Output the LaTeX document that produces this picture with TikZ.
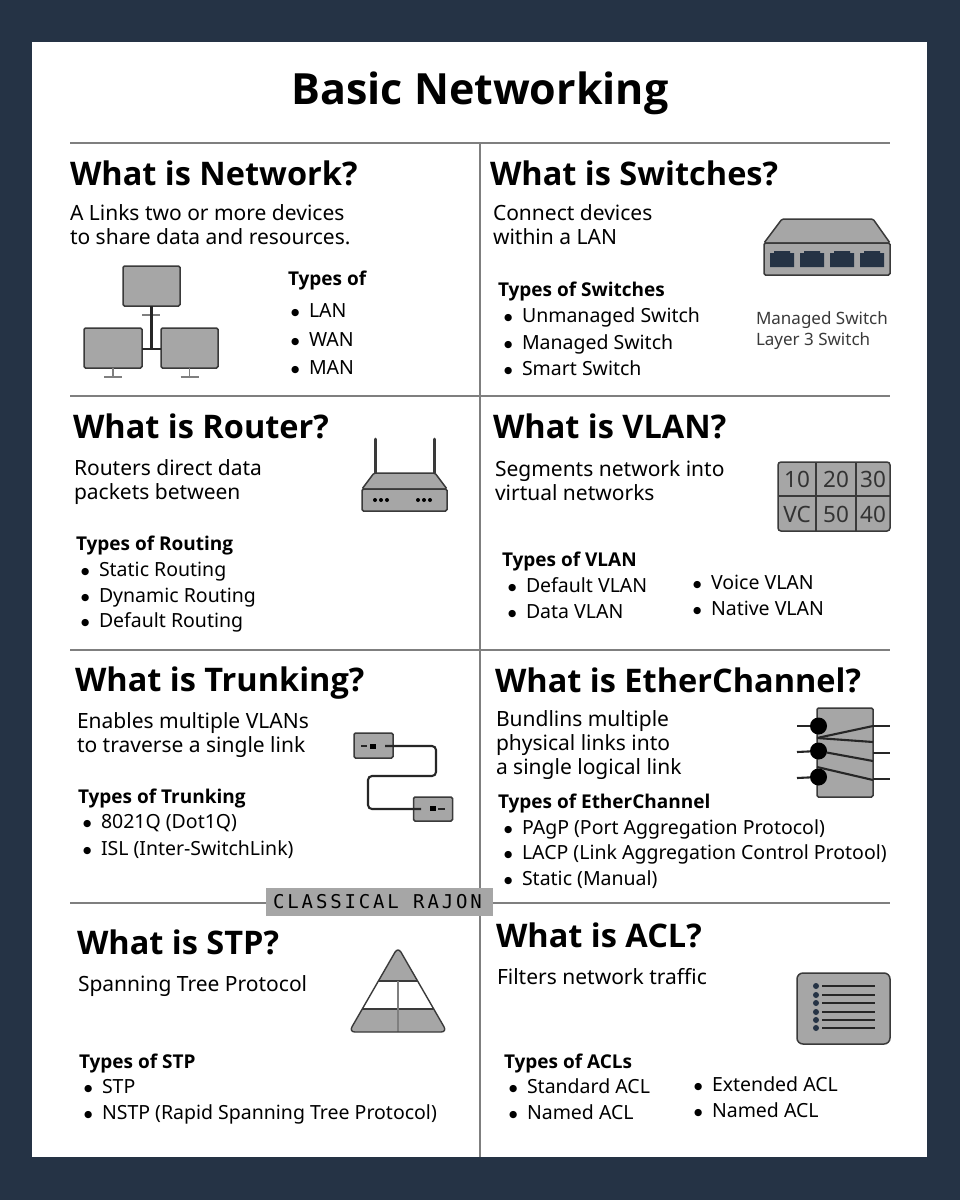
\documentclass[tikz,border=0pt]{standalone}
\usepackage{fontspec}
\setmainfont{Noto Sans}[BoldFont={Open Sans Bold}]
\newfontfamily\stampfont[LetterSpace=15]{DejaVu Sans Mono}
\newfontfamily\dotfont{DejaVu Sans}
\definecolor{slate}{HTML}{253345}
\definecolor{panel}{HTML}{A6A6A6}
\definecolor{rule}{HTML}{7F7F7F}
\definecolor{ink}{HTML}{3A3A3A}
\newcommand{\itm}[1]{\makebox[18pt][l]{\raisebox{2pt}{\dotfont\fontsize{9.5}{9.5}\selectfont ●}}#1}
\tikzstyle{plain} = [inner sep=0pt, outer sep=0pt, anchor=base west]
\tikzstyle{maintitle} = [plain, font=\fontsize{43}{43}\selectfont\bfseries]
\tikzstyle{heading} = [plain, font=\fontsize{32.5}{32.5}\selectfont\bfseries]
\tikzstyle{bodytext} = [plain, font=\fontsize{21}{24}\selectfont, align=left]
\tikzstyle{typehead} = [plain, font=\fontsize{19}{19}\selectfont\bfseries]
\tikzstyle{entry} = [plain, font=\fontsize{19.5}{19.5}\selectfont]
\tikzstyle{smallnote} = [plain, font=\fontsize{17}{17}\selectfont, text=ink]
\tikzstyle{divider} = [rule, line width=1.6pt]
\tikzstyle{icon} = [draw=ink, fill=panel, line width=1.5pt, rounded corners=1.5pt]
\tikzstyle{box} = [icon, rectangle, inner sep=0pt, outer sep=0pt]
\tikzstyle{wire} = [black!85, line width=2.1pt]
\tikzstyle{stand} = [rule, line width=1.5pt]
\tikzstyle{dot} = [circle, fill=black, inner sep=0pt, outer sep=0pt]
\tikzstyle{cell} = [inner sep=0pt, font=\fontsize{22.5}{22.5}\selectfont, text=black!80]
\begin{document}
\begin{tikzpicture}[x=1pt,y=-1pt]
    \fill [slate] (0,0) rectangle (960,1200);
    \fill [white] (32,42) rectangle (927,1157);
    \node (title) [maintitle, anchor=base] at (480,104) {Basic Networking};

    % dividers
    \coordinate (r1w) at (70,143); \coordinate (r1e) at (890,143);
    \coordinate (r2w) at (70,396); \coordinate (r2e) at (890,396);
    \coordinate (r3w) at (70,650); \coordinate (r3e) at (890,650);
    \coordinate (r4w) at (70,903); \coordinate (r4e) at (890,903);
    \coordinate (vtop) at (480,143); \coordinate (vbot) at (480,1157);
    \draw [divider] (r1w) -- (r1e);
    \draw [divider] (r2w) -- (r2e);
    \draw [divider] (r3w) -- (r3e);
    \draw [divider] (r4w) -- (r4e);
    \draw [divider] (vtop) -- (vbot);

    % network
    \node (nethead) [heading] at (70,185) {What is Network?};
    \node (netbody) [bodytext] at (70,244) {A Links two or more devices\\to share data and resources.};
    \node (nettypes) [typehead] at (288,285) {Types of};
    \node (lan) [entry] at (291,317) {\itm{LAN}};
    \node (wan) [entry] at (291,346) {\itm{WAN}};
    \node (man) [entry] at (291,374) {\itm{MAN}};
    \node (pctop) [box, minimum width=57pt, minimum height=40pt] at (151.5,286) {};
    \node (pcleft) [box, minimum width=58pt, minimum height=40pt] at (113,348) {};
    \node (pcright) [box, minimum width=57pt, minimum height=40pt] at (189.5,348) {};
    \coordinate (hub) at (pctop.south |- 0,349);
    \draw [stand] (142,315) -- (160,315);
    \draw [wire] (pctop.south) -- (hub);
    \draw [wire] (pcleft.east |- hub) -- (pcright.west |- hub);
    \draw [stand] (pcleft.south) -- ++(0,9) ++(-9,0) -- ++(18,0);
    \draw [stand] (pcright.south) -- ++(0,9) ++(-9,0) -- ++(18,0);

    % switches
    \node (swhead) [heading] at (490,185) {What is Switches?};
    \node (swbody) [bodytext] at (493,244) {Connect devices\\within a LAN};
    \node (swtypes) [typehead] at (498,296) {Types of Switches};
    \node (sw1) [entry] at (504,322) {\itm{Unmanaged Switch}};
    \node (sw2) [entry] at (504,349) {\itm{Managed Switch}};
    \node (sw3) [entry] at (504,375) {\itm{Smart Switch}};
    \node (swnote1) [smallnote] at (756,324) {Managed Switch};
    \node (swnote2) [smallnote] at (756,345) {Layer 3 Switch};
    \draw [icon] (764,243) -- (782,219) -- (873,219) -- (890,243) -- cycle;
    \draw [icon] (764,243) rectangle (890,275);
    \foreach \px in {770,800,830,860}
        \fill [slate] (\px,253) -- ++(4,0) -- ++(0,-2) -- ++(16,0) -- ++(0,2) -- ++(4,0) -- ++(0,14) -- ++(-24,0) -- cycle;

    % router
    \node (rthead) [heading] at (73,438) {What is Router?};
    \node (rtbody) [bodytext] at (74,499) {Routers direct data\\packets between};
    \node (rttypes) [typehead] at (76,550) {Types of Routing};
    \node (rt1) [entry] at (81,576) {\itm{Static Routing}};
    \node (rt2) [entry] at (81,602) {\itm{Dynamic Routing}};
    \node (rt3) [entry] at (81,627) {\itm{Default Routing}};
    \draw [ink, line width=3pt, line cap=round] (375,439) -- (375,473);
    \draw [ink, line width=3pt, line cap=round] (434,439) -- (434,473);
    \draw [icon] (374,473) -- (435,473) -- (447,489) -- (362,489) -- cycle;
    \draw [icon] (362,489) rectangle (447,511);
    \foreach \px in {375,381,387,418,424,430}
        \node [dot, minimum size=4pt] at (\px,500) {};

    % vlan
    \node (vlhead) [heading] at (493,438) {What is VLAN?};
    \node (vlbody) [bodytext] at (495,500) {Segments network into\\virtual networks};
    \node (vltypes) [typehead] at (502,566) {Types of VLAN};
    \node (vl1) [entry] at (508,592) {\itm{Default VLAN}};
    \node (vl2) [entry] at (508,618) {\itm{Data VLAN}};
    \node (vl3) [entry] at (693,589) {\itm{Voice VLAN}};
    \node (vl4) [entry] at (693,615) {\itm{Native VLAN}};
    \draw [icon, rounded corners=3pt] (778,462) rectangle (890,531);
    \draw [ink, line width=1.5pt] (816,462) -- (816,531);
    \draw [ink, line width=1.5pt] (856,462) -- (856,531);
    \draw [ink, line width=1.5pt] (778,496) -- (890,496);
    \foreach \px/\py/\vid in {797/479/10,836/479/20,873/479/30,797/514/VC,836/514/50,873/514/40}
        \node [cell] at (\px,\py) {\vid};

    % trunking
    \node (trhead) [heading] at (75,691) {What is Trunking?};
    \node (trbody) [bodytext] at (77,752) {Enables multiple VLANs\\to traverse a single link};
    \node (trtypes) [typehead] at (78,803) {Types of Trunking};
    \node (tr1) [entry] at (83,828) {\itm{8021Q (Dot1Q)}};
    \node (tr2) [entry] at (83,855) {\itm{ISL (Inter-SwitchLink)}};
    \node (trunka) [box, minimum width=39pt, minimum height=25pt] at (373.5,745.5) {};
    \node (trunkb) [box, minimum width=39pt, minimum height=24pt] at (433,809) {};
    \coordinate (porta) at (385,746);
    \coordinate (portb) at (421,809);
    \draw [wire, rounded corners=4pt] (porta) -- (436,746) -- (436,776) -- (368,776) -- (368,809) -- (portb);
    \draw [wire] (361,746) -- (367,746);
    \fill [black] (370,744) rectangle (376,749);
    \draw [wire] (438,809) -- (445,809);
    \fill [black] (430,806) rectangle (436,811);

    % etherchannel
    \node (echead) [heading] at (495,692) {What is EtherChannel?};
    \node (ecbody) [bodytext] at (496,774) {Bundlins multiple\\physical links into\\a single logical link};
    \node (ectypes) [typehead] at (498,808) {Types of EtherChannel};
    \node (ec1) [entry] at (504,834) {\itm{PAgP (Port Aggregation Protocol)}};
    \node (ec2) [entry] at (504,859) {\itm{LACP (Link Aggregation Control Protool)}};
    \node (ec3) [entry] at (504,885) {\itm{Static (Manual)}};
    \node (bundle) [box, minimum width=56pt, minimum height=89pt] at (845,752.5) {};
    \node (lnka) [dot, minimum size=17pt] at (818.5,726) {};
    \node (lnkb) [dot, minimum size=17pt] at (818.5,751) {};
    \node (lnkc) [dot, minimum size=17pt] at (818.5,777) {};
    \draw [wire] (797,726) -- (lnka);
    \draw [wire] (797,752) -- (lnkb);
    \draw [wire] (797,778) -- (lnkc);
    \draw [wire] (873,726) -- (890,726);
    \draw [wire] (873,753) -- (890,753);
    \draw [wire] (873,779) -- (890,779);
    \draw [wire] (817,738) -- (873,726);
    \draw [wire] (817,738) -- (873,742);
    \draw [wire] (lnkb) -- (873,761);
    \draw [wire] (817,767) -- (873,780);

    % stamp
    \node (stamp) [fill=panel, minimum width=227pt, minimum height=28pt, inner sep=0pt, text=black, font=\stampfont\fontsize{19}{19}\selectfont] at (379.5,902) {CLASSICAL RAJON\hspace*{4pt}};

    % stp
    \node (stphead) [heading] at (77,954) {What is STP?};
    \node (stpbody) [bodytext] at (78,991) {Spanning Tree Protocol};
    \node (stptypes) [typehead] at (79,1068) {Types of STP};
    \node (stp1) [entry] at (84,1093) {\itm{STP}};
    \node (stp2) [entry] at (84,1119) {\itm{NSTP (Rapid Spanning Tree Protocol)}};
    \begin{scope}
        \clip [rounded corners=6pt] (398,947) -- (447,1032) -- (349,1032) -- cycle;
        \fill [panel] (340,940) rectangle (456,981);
        \fill [panel] (340,1009) rectangle (456,1040);
        \draw [ink, line width=1.2pt] (340,981) -- (456,981);
        \draw [ink, line width=1.2pt] (340,1009) -- (456,1009);
        \draw [rule, line width=1.4pt] (398,981) -- (398,1032);
    \end{scope}
    \draw [ink, line width=1.4pt, rounded corners=6pt] (398,947) -- (447,1032) -- (349,1032) -- cycle;

    % acl
    \node (aclhead) [heading] at (496,947) {What is ACL?};
    \node (aclbody) [bodytext] at (497,984) {Filters network traffic};
    \node (acltypes) [typehead] at (504,1068) {Types of ACLs};
    \node (acl1) [entry] at (509,1093) {\itm{Standard ACL}};
    \node (acl2) [entry] at (509,1119) {\itm{Named ACL}};
    \node (acl3) [entry] at (694,1091) {\itm{Extended ACL}};
    \node (acl4) [entry] at (694,1117) {\itm{Named ACL}};
    \draw [icon, rounded corners=6pt] (797,973) rectangle (890,1044);
    \foreach \py in {986,995,1003,1012,1020,1028} {
        \fill [slate] (816,\py) circle (3pt);
        \draw [black!85, line width=1.4pt] (822,\py) -- (875,\py);
    }
\end{tikzpicture}
\end{document}
